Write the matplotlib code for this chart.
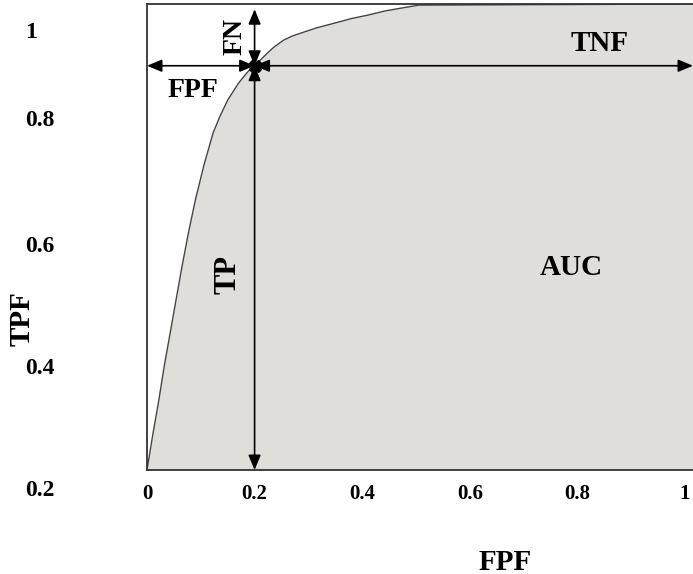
import matplotlib
matplotlib.use("Agg")
import matplotlib.pyplot as plt
import numpy as np

# ---- data ----
curve_fpf = [0.0, 0.011, 0.022, 0.032, 0.043, 0.054, 0.065, 0.077, 0.090, 0.106, 0.123,
             0.136, 0.150, 0.170, 0.185, 0.198, 0.211, 0.224, 0.236, 0.254, 0.270,
             0.286, 0.315, 0.348, 0.380, 0.411, 0.442, 0.473, 0.505, 1.015]
curve_tpf = [0.2, 0.262, 0.320, 0.378, 0.435, 0.492, 0.549, 0.607, 0.664, 0.724, 0.779,
             0.808, 0.835, 0.864, 0.881, 0.894, 0.904, 0.916, 0.926, 0.938, 0.945,
             0.950, 0.959, 0.967, 0.975, 0.981, 0.988, 0.993, 0.998, 1.0]
op_fpf = 0.2
op_tpf = 0.894
fn_top = 0.991
xticks = [0, 0.2, 0.4, 0.6, 0.8, 1.0]
xtick_labels = ["0", "0.2", "0.4", "0.6", "0.8", "1"]
ytick_labels = ["1", "0.8", "0.6", "0.4", "0.2"]
ytick_fig_y = [1 - 33/574, 1 - 121/574, 1 - 247/574, 1 - 369/574, 1 - 491/574]

plt.rcParams['font.family'] = ['Liberation Serif', 'DejaVu Serif']
plt.rcParams['font.weight'] = 'bold'

W, H = 693, 574
fig = plt.figure(figsize=(W/100, H/100), dpi=100)
ax = fig.add_axes([147/W, (H-470)/H, (W-147)/W, 466/H])
ax.set_xlim(0, 1.015)
ax.set_ylim(0.2, 1.0)

x = np.array(curve_fpf)
y = np.array(curve_tpf)
ax.fill_between(x, 0.2, y, color='#dfdedb', lw=0, zorder=1)
ax.plot(x, y, color='#444444', lw=1.0, zorder=2, solid_joinstyle='round')

ap = dict(arrowstyle='<|-|>,head_length=0.6,head_width=0.25', color='black',
          lw=1.2, shrinkA=0, shrinkB=0, mutation_scale=15)
xmax = ax.get_xlim()[1]
ax.annotate('', xy=(0, op_tpf), xytext=(op_fpf, op_tpf), arrowprops=ap, zorder=5)
ax.annotate('', xy=(xmax, op_tpf), xytext=(op_fpf, op_tpf), arrowprops=ap, zorder=5)
ax.annotate('', xy=(op_fpf, fn_top), xytext=(op_fpf, op_tpf), arrowprops=ap, zorder=5)
ax.annotate('', xy=(op_fpf, 0.2), xytext=(op_fpf, op_tpf), arrowprops=ap, zorder=5)
ax.plot([op_fpf], [op_tpf], marker='X', color='black', markersize=9, zorder=6)

tkw = dict(fontweight='bold', ha='center', va='center', zorder=6)
ax.text(0.164, 0.945, 'FN', rotation=90, fontsize=20, **tkw)
ax.text(0.0855, 0.852, 'FPF', fontsize=20, **tkw)
ax.text(0.842, 0.933, 'TNF', fontsize=21, **tkw)
ax.text(0.1506, 0.535, 'TP', rotation=90, fontsize=22, **tkw)
ax.text(0.788, 0.547, 'AUC', fontsize=21, **tkw)

ax.set_xticks(xticks)
ax.set_xticklabels(xtick_labels, fontsize=15, fontweight='bold')
ax.tick_params(axis='x', length=0, pad=10)
ax.set_yticks([])

for lab, fy in zip(ytick_labels, ytick_fig_y):
    fig.text(25/W, fy, lab, fontsize=17, fontweight='bold', ha='left', va='center')

ax.set_xlabel('FPF', fontsize=21, fontweight='bold')
ax.xaxis.set_label_coords((505-147)/546, -0.170)
ax.set_ylabel('TPF', fontsize=21, fontweight='bold', va='center')
ax.yaxis.set_label_coords((22-147)/546, (470-319)/466)

for s in ['left', 'top', 'bottom']:
    ax.spines[s].set_color('#333333')
    ax.spines[s].set_linewidth(1.3)
ax.spines['right'].set_visible(False)

fig.savefig('out.png', dpi=100)
